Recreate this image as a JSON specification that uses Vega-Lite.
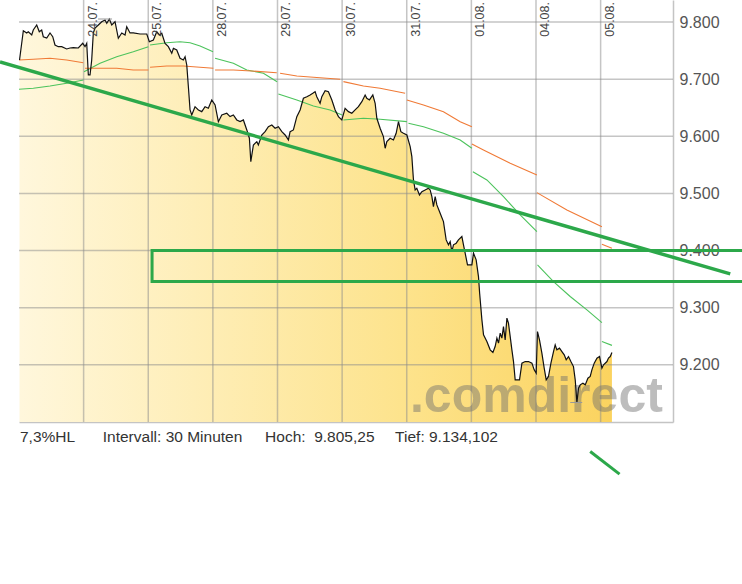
{
  "$schema": "https://vega.github.io/schema/vega-lite/v6.json",
  "autosize": "none",
  "width": 654,
  "height": 422,
  "padding": {"left": 19, "top": 0, "right": 69, "bottom": 162},
  "background": "white",
  "config": {"view": {"stroke": null}},
  "datasets": {
    "kurs": [
      {"t":0.008,"kurs":9733.5},{"t":0.067,"kurs":9784.8},{"t":0.119,"kurs":9780.8},{"t":0.144,"kurs":9783.0},{"t":0.197,"kurs":9777.3},{"t":0.221,"kurs":9786.0},{"t":0.274,"kurs":9794.8},{"t":0.314,"kurs":9783.0},{"t":0.351,"kurs":9786.0},{"t":0.376,"kurs":9774.3},{"t":0.429,"kurs":9772.0},{"t":0.480,"kurs":9780.8},{"t":0.522,"kurs":9774.3},{"t":0.557,"kurs":9759.8},{"t":0.608,"kurs":9756.8},{"t":0.661,"kurs":9756.8},{"t":0.738,"kurs":9752.8},{"t":0.789,"kurs":9754.5},{"t":0.841,"kurs":9755.1},{"t":0.918,"kurs":9754.5},{"t":0.986,"kurs":9762.7},{"t":1.022,"kurs":9756.8},{"t":1.048,"kurs":9762.7},{"t":1.073,"kurs":9707.3},{"t":1.099,"kurs":9707.3},{"t":1.125,"kurs":9733.5},{"t":1.150,"kurs":9780.8},{"t":1.176,"kurs":9789.5},{"t":1.228,"kurs":9794.8},{"t":1.280,"kurs":9800.5},{"t":1.331,"kurs":9803.5},{"t":1.358,"kurs":9797.7},{"t":1.398,"kurs":9805.25},{"t":1.435,"kurs":9794.8},{"t":1.486,"kurs":9800.5},{"t":1.537,"kurs":9771.5},{"t":1.590,"kurs":9780.8},{"t":1.641,"kurs":9777.3},{"t":1.667,"kurs":9791.8},{"t":1.718,"kurs":9780.8},{"t":1.769,"kurs":9780.8},{"t":1.873,"kurs":9779.0},{"t":1.977,"kurs":9779.0},{"t":2.017,"kurs":9765.5},{"t":2.079,"kurs":9768.5},{"t":2.132,"kurs":9783.0},{"t":2.172,"kurs":9777.3},{"t":2.209,"kurs":9780.2},{"t":2.260,"kurs":9762.7},{"t":2.311,"kurs":9756.8},{"t":2.364,"kurs":9745.2},{"t":2.389,"kurs":9754.0},{"t":2.441,"kurs":9751.0},{"t":2.492,"kurs":9736.5},{"t":2.543,"kurs":9733.5},{"t":2.570,"kurs":9739.3},{"t":2.596,"kurs":9724.8},{"t":2.621,"kurs":9686.8},{"t":2.647,"kurs":9646.1},{"t":2.673,"kurs":9637.3},{"t":2.724,"kurs":9651.8},{"t":2.776,"kurs":9646.1},{"t":2.828,"kurs":9643.1},{"t":2.879,"kurs":9651.8},{"t":2.930,"kurs":9649.0},{"t":2.983,"kurs":9663.6},{"t":3.034,"kurs":9654.8},{"t":3.085,"kurs":9625.6},{"t":3.138,"kurs":9637.3},{"t":3.215,"kurs":9640.3},{"t":3.266,"kurs":9634.4},{"t":3.317,"kurs":9637.3},{"t":3.370,"kurs":9628.6},{"t":3.421,"kurs":9625.6},{"t":3.472,"kurs":9628.6},{"t":3.525,"kurs":9611.1},{"t":3.565,"kurs":9596.6},{"t":3.587,"kurs":9555.6},{"t":3.627,"kurs":9584.8},{"t":3.680,"kurs":9590.6},{"t":3.704,"kurs":9584.8},{"t":3.757,"kurs":9602.3},{"t":3.808,"kurs":9608.1},{"t":3.859,"kurs":9616.8},{"t":3.912,"kurs":9619.8},{"t":3.963,"kurs":9614.0},{"t":4.014,"kurs":9616.8},{"t":4.067,"kurs":9608.1},{"t":4.118,"kurs":9602.3},{"t":4.169,"kurs":9593.6},{"t":4.195,"kurs":9608.1},{"t":4.246,"kurs":9611.1},{"t":4.299,"kurs":9634.4},{"t":4.350,"kurs":9646.1},{"t":4.401,"kurs":9666.5},{"t":4.454,"kurs":9669.3},{"t":4.505,"kurs":9672.3},{"t":4.546,"kurs":9675.3},{"t":4.582,"kurs":9678.1},{"t":4.608,"kurs":9669.3},{"t":4.633,"kurs":9663.6},{"t":4.659,"kurs":9657.8},{"t":4.686,"kurs":9669.3},{"t":4.737,"kurs":9679.8},{"t":4.788,"kurs":9678.1},{"t":4.841,"kurs":9663.6},{"t":4.892,"kurs":9646.1},{"t":4.943,"kurs":9634.4},{"t":4.995,"kurs":9628.6},{"t":5.046,"kurs":9649.0},{"t":5.098,"kurs":9643.1},{"t":5.150,"kurs":9640.3},{"t":5.201,"kurs":9646.1},{"t":5.252,"kurs":9651.8},{"t":5.305,"kurs":9660.6},{"t":5.356,"kurs":9672.3},{"t":5.382,"kurs":9666.5},{"t":5.423,"kurs":9663.6},{"t":5.475,"kurs":9672.3},{"t":5.511,"kurs":9657.8},{"t":5.537,"kurs":9631.5},{"t":5.588,"kurs":9614.0},{"t":5.639,"kurs":9599.4},{"t":5.666,"kurs":9579.1},{"t":5.692,"kurs":9590.6},{"t":5.743,"kurs":9596.6},{"t":5.794,"kurs":9593.6},{"t":5.836,"kurs":9605.3},{"t":5.872,"kurs":9625.6},{"t":5.909,"kurs":9608.1},{"t":5.949,"kurs":9605.3},{"t":6.002,"kurs":9602.3},{"t":6.053,"kurs":9581.9},{"t":6.079,"kurs":9564.4},{"t":6.104,"kurs":9523.6},{"t":6.130,"kurs":9506.1},{"t":6.156,"kurs":9509.1},{"t":6.197,"kurs":9497.4},{"t":6.234,"kurs":9503.2},{"t":6.285,"kurs":9506.1},{"t":6.336,"kurs":9509.1},{"t":6.362,"kurs":9506.1},{"t":6.389,"kurs":9494.4},{"t":6.413,"kurs":9476.9},{"t":6.440,"kurs":9494.4},{"t":6.466,"kurs":9479.9},{"t":6.517,"kurs":9465.4},{"t":6.568,"kurs":9450.7},{"t":6.610,"kurs":9418.7},{"t":6.646,"kurs":9410.0},{"t":6.672,"kurs":9415.7},{"t":6.698,"kurs":9398.2},{"t":6.723,"kurs":9410.0},{"t":6.765,"kurs":9412.9},{"t":6.800,"kurs":9418.7},{"t":6.853,"kurs":9424.5},{"t":6.878,"kurs":9410.0},{"t":6.904,"kurs":9395.4},{"t":6.940,"kurs":9375.0},{"t":7.008,"kurs":9375.0},{"t":7.033,"kurs":9395.4},{"t":7.074,"kurs":9383.7},{"t":7.110,"kurs":9354.5},{"t":7.128,"kurs":9325.4},{"t":7.163,"kurs":9278.7},{"t":7.188,"kurs":9252.5},{"t":7.240,"kurs":9240.8},{"t":7.291,"kurs":9226.3},{"t":7.333,"kurs":9221.6},{"t":7.368,"kurs":9232.1},{"t":7.395,"kurs":9246.7},{"t":7.420,"kurs":9238.0},{"t":7.446,"kurs":9255.5},{"t":7.472,"kurs":9246.7},{"t":7.497,"kurs":9267.0},{"t":7.523,"kurs":9243.7},{"t":7.550,"kurs":9281.7},{"t":7.574,"kurs":9273.0},{"t":7.601,"kurs":9249.5},{"t":7.627,"kurs":9226.3},{"t":7.652,"kurs":9205.8},{"t":7.678,"kurs":9173.8},{"t":7.745,"kurs":9173.8},{"t":7.782,"kurs":9203.0},{"t":7.833,"kurs":9205.8},{"t":7.884,"kurs":9205.8},{"t":7.937,"kurs":9203.0},{"t":7.972,"kurs":9191.3},{"t":8.003,"kurs":9185.5},{"t":8.023,"kurs":9258.3},{"t":8.054,"kurs":9243.7},{"t":8.091,"kurs":9220.5},{"t":8.127,"kurs":9194.2},{"t":8.158,"kurs":9173.8},{"t":8.193,"kurs":9179.6},{"t":8.231,"kurs":9203.0},{"t":8.271,"kurs":9223.3},{"t":8.297,"kurs":9235.0},{"t":8.323,"kurs":9226.3},{"t":8.364,"kurs":9229.2},{"t":8.401,"kurs":9223.3},{"t":8.437,"kurs":9217.5},{"t":8.467,"kurs":9208.8},{"t":8.503,"kurs":9214.5},{"t":8.540,"kurs":9205.8},{"t":8.580,"kurs":9197.0},{"t":8.607,"kurs":9173.8},{"t":8.633,"kurs":9134.1},{"t":8.658,"kurs":9159.3},{"t":8.684,"kurs":9165.0},{"t":8.726,"kurs":9168.0},{"t":8.762,"kurs":9165.0},{"t":8.803,"kurs":9176.7},{"t":8.839,"kurs":9179.6},{"t":8.865,"kurs":9191.3},{"t":8.901,"kurs":9203.0},{"t":8.943,"kurs":9211.8},{"t":8.983,"kurs":9214.5},{"t":9.020,"kurs":9194.2},{"t":9.045,"kurs":9200.0},{"t":9.098,"kurs":9205.8},{"t":9.122,"kurs":9211.8},{"t":9.149,"kurs":9214.5},{"t":9.175,"kurs":9221.5}
    ],
    "gd": [
      {"linie":"GD kurz","tag":0,"t":0.0,"kurs":9682.3},{"linie":"GD kurz","tag":0,"t":0.221,"kurs":9684.0},{"linie":"GD kurz","tag":0,"t":0.480,"kurs":9688.0},{"linie":"GD kurz","tag":0,"t":0.738,"kurs":9692.8},{"linie":"GD kurz","tag":0,"t":0.998,"kurs":9698.5},
      {"linie":"GD kurz","tag":1,"t":1.006,"kurs":9713.1},{"linie":"GD kurz","tag":1,"t":1.254,"kurs":9727.8},{"linie":"GD kurz","tag":1,"t":1.512,"kurs":9739.3},{"linie":"GD kurz","tag":1,"t":1.769,"kurs":9748.1},{"linie":"GD kurz","tag":1,"t":2.002,"kurs":9756.8},
      {"linie":"GD kurz","tag":2,"t":2.028,"kurs":9759.8},{"linie":"GD kurz","tag":2,"t":2.286,"kurs":9763.8},{"linie":"GD kurz","tag":2,"t":2.492,"kurs":9765.5},{"linie":"GD kurz","tag":2,"t":2.647,"kurs":9763.8},{"linie":"GD kurz","tag":2,"t":2.802,"kurs":9758.0},{"linie":"GD kurz","tag":2,"t":3.003,"kurs":9748.1},
      {"linie":"GD kurz","tag":3,"t":3.034,"kurs":9736.5},{"linie":"GD kurz","tag":3,"t":3.317,"kurs":9727.8},{"linie":"GD kurz","tag":3,"t":3.525,"kurs":9716.0},{"linie":"GD kurz","tag":3,"t":3.782,"kurs":9710.3},{"linie":"GD kurz","tag":3,"t":3.994,"kurs":9695.6},
      {"linie":"GD kurz","tag":4,"t":4.014,"kurs":9674.0},{"linie":"GD kurz","tag":4,"t":4.299,"kurs":9663.6},{"linie":"GD kurz","tag":4,"t":4.556,"kurs":9653.0},{"linie":"GD kurz","tag":4,"t":4.814,"kurs":9646.1},{"linie":"GD kurz","tag":4,"t":5.0,"kurs":9637.3},
      {"linie":"GD kurz","tag":5,"t":5.020,"kurs":9628.6},{"linie":"GD kurz","tag":5,"t":5.330,"kurs":9631.5},{"linie":"GD kurz","tag":5,"t":5.588,"kurs":9629.8},{"linie":"GD kurz","tag":5,"t":6.002,"kurs":9625.6},
      {"linie":"GD kurz","tag":6,"t":6.026,"kurs":9622.8},{"linie":"GD kurz","tag":6,"t":6.259,"kurs":9616.8},{"linie":"GD kurz","tag":6,"t":6.568,"kurs":9605.3},{"linie":"GD kurz","tag":6,"t":6.827,"kurs":9593.6},{"linie":"GD kurz","tag":6,"t":7.008,"kurs":9579.1},
      {"linie":"GD kurz","tag":7,"t":7.023,"kurs":9538.1},{"linie":"GD kurz","tag":7,"t":7.240,"kurs":9523.6},{"linie":"GD kurz","tag":7,"t":7.497,"kurs":9494.4},{"linie":"GD kurz","tag":7,"t":7.755,"kurs":9462.4},{"linie":"GD kurz","tag":7,"t":8.014,"kurs":9433.3},
      {"linie":"GD kurz","tag":8,"t":8.023,"kurs":9374.9},{"linie":"GD kurz","tag":8,"t":8.271,"kurs":9345.8},{"linie":"GD kurz","tag":8,"t":8.529,"kurs":9319.6},{"linie":"GD kurz","tag":8,"t":8.788,"kurs":9296.3},{"linie":"GD kurz","tag":8,"t":9.020,"kurs":9274.0},
      {"linie":"GD kurz","tag":9,"t":9.020,"kurs":9240.8},{"linie":"GD kurz","tag":9,"t":9.175,"kurs":9234.1},
      {"linie":"GD lang","tag":0,"t":0.0,"kurs":9733.5},{"linie":"GD lang","tag":0,"t":0.221,"kurs":9734.7},{"linie":"GD lang","tag":0,"t":0.480,"kurs":9736.5},{"linie":"GD lang","tag":0,"t":0.738,"kurs":9733.5},{"linie":"GD lang","tag":0,"t":0.995,"kurs":9728.8},
      {"linie":"GD lang","tag":1,"t":1.022,"kurs":9719.0},{"linie":"GD lang","tag":1,"t":1.254,"kurs":9719.0},{"linie":"GD lang","tag":1,"t":1.512,"kurs":9719.0},{"linie":"GD lang","tag":1,"t":1.769,"kurs":9716.0},{"linie":"GD lang","tag":1,"t":2.002,"kurs":9716.0},
      {"linie":"GD lang","tag":2,"t":2.028,"kurs":9720.8},{"linie":"GD lang","tag":2,"t":2.286,"kurs":9723.0},{"linie":"GD lang","tag":2,"t":2.543,"kurs":9723.0},{"linie":"GD lang","tag":2,"t":3.008,"kurs":9719.0},
      {"linie":"GD lang","tag":3,"t":3.034,"kurs":9716.0},{"linie":"GD lang","tag":3,"t":3.317,"kurs":9716.0},{"linie":"GD lang","tag":3,"t":3.525,"kurs":9714.8},{"linie":"GD lang","tag":3,"t":3.989,"kurs":9711.3},
      {"linie":"GD lang","tag":4,"t":4.040,"kurs":9710.3},{"linie":"GD lang","tag":4,"t":4.299,"kurs":9705.5},{"linie":"GD lang","tag":4,"t":4.556,"kurs":9703.3},{"linie":"GD lang","tag":4,"t":4.969,"kurs":9699.8},
      {"linie":"GD lang","tag":5,"t":5.020,"kurs":9695.6},{"linie":"GD lang","tag":5,"t":5.330,"kurs":9688.0},{"linie":"GD lang","tag":5,"t":5.588,"kurs":9684.0},{"linie":"GD lang","tag":5,"t":5.975,"kurs":9675.3},
      {"linie":"GD lang","tag":6,"t":6.002,"kurs":9663.6},{"linie":"GD lang","tag":6,"t":6.259,"kurs":9654.8},{"linie":"GD lang","tag":6,"t":6.568,"kurs":9643.1},{"linie":"GD lang","tag":6,"t":6.827,"kurs":9625.6},{"linie":"GD lang","tag":6,"t":7.008,"kurs":9616.8},
      {"linie":"GD lang","tag":7,"t":7.008,"kurs":9586.6},{"linie":"GD lang","tag":7,"t":7.187,"kurs":9576.1},{"linie":"GD lang","tag":7,"t":7.601,"kurs":9552.8},{"linie":"GD lang","tag":7,"t":8.014,"kurs":9532.4},
      {"linie":"GD lang","tag":8,"t":8.014,"kurs":9501.4},{"linie":"GD lang","tag":8,"t":8.478,"kurs":9471.1},{"linie":"GD lang","tag":8,"t":9.020,"kurs":9441.9},
      {"linie":"GD lang","tag":9,"t":9.020,"kurs":9411.1},{"linie":"GD lang","tag":9,"t":9.175,"kurs":9404.1}
    ],
    "tage": [
      {"t":1,"label":"24.07."},{"t":2,"label":"25.07."},{"t":3,"label":"28.07."},{"t":4,"label":"29.07."},{"t":5,"label":"30.07."},{"t":6,"label":"31.07."},{"t":7,"label":"01.08."},{"t":8,"label":"04.08."},{"t":9,"label":"05.08."}
    ],
    "niveaus": [
      {"kurs":9200},{"kurs":9300},{"kurs":9400},{"kurs":9500},{"kurs":9600},{"kurs":9700},{"kurs":9800}
    ],
    "eins": [{}]
  },
  "layer": [
    {
      "data": {"name": "kurs"},
      "mark": {"type": "area", "fill": {"gradient": "linear", "x1": 0, "y1": 0, "x2": 1, "y2": 0, "stops": [{"offset": 0, "color": "#fff7dc"}, {"offset": 0.65, "color": "#fde38c"}, {"offset": 1, "color": "#fbd35f"}]}},
      "encoding": {
        "x": {"field": "t", "type": "quantitative", "scale": {"domain": [0, 10.12], "nice": false, "zero": false},
              "axis": {"orient": "bottom", "title": null, "labels": false, "ticks": false, "grid": false, "domain": true, "domainColor": "#c4c4c4", "domainWidth": 1.5}},
        "y": {"field": "kurs", "type": "quantitative", "scale": {"domain": [9100, 9838.5], "nice": false, "zero": false},
              "axis": {"orient": "right", "title": null, "values": [9200, 9300, 9400, 9500, 9600, 9700, 9800], "labelExpr": "replace(format(datum.value, ','), ',', '.')", "ticks": false, "grid": false, "domain": true, "domainColor": "#c4c4c4", "domainWidth": 1.5, "labelFont": "Liberation Sans", "labelFontSize": 16, "labelColor": "#555555", "labelPadding": 6}},
        "y2": {"datum": 9100}
      }
    },
    {
      "data": {"name": "tage"},
      "mark": {"type": "rule", "color": "#8c8c8c", "opacity": 0.5, "strokeWidth": 1.5},
      "encoding": {"x": {"field": "t", "type": "quantitative"}}
    },
    {
      "data": {"name": "niveaus"},
      "mark": {"type": "rule", "color": "#8c8c8c", "opacity": 0.5, "strokeWidth": 1.5},
      "encoding": {"y": {"field": "kurs", "type": "quantitative"}}
    },
    {
      "data": {"name": "eins"},
      "mark": {"type": "text", "text": ".comdirect", "align": "left", "baseline": "alphabetic", "font": "Liberation Sans", "fontWeight": "bold", "fontSize": 50, "color": "#6e6e6e", "opacity": 0.45},
      "encoding": {"x": {"datum": 6.05}, "y": {"datum": 9117.8}}
    },
    {
      "data": {"name": "gd"},
      "mark": {"type": "line", "strokeWidth": 1.1},
      "encoding": {
        "x": {"field": "t", "type": "quantitative"},
        "y": {"field": "kurs", "type": "quantitative"},
        "color": {"field": "linie", "type": "nominal", "scale": {"domain": ["GD kurz", "GD lang"], "range": ["#4cc35c", "#f07a36"]}, "legend": null},
        "detail": {"field": "tag"}
      }
    },
    {
      "data": {"name": "kurs"},
      "mark": {"type": "line", "color": "#111111", "strokeWidth": 1.2},
      "encoding": {"x": {"field": "t", "type": "quantitative"}, "y": {"field": "kurs", "type": "quantitative"}}
    },
    {
      "data": {"name": "tage"},
      "mark": {"type": "text", "angle": 270, "align": "right", "baseline": "top", "dx": -2, "dy": 3, "font": "Liberation Sans", "fontSize": 12.5, "color": "#444444"},
      "encoding": {"x": {"field": "t", "type": "quantitative"}, "y": {"datum": 9838.5}, "text": {"field": "label"}}
    },
    {
      "data": {"name": "eins"},
      "mark": {"type": "rule", "color": "#999999", "strokeWidth": 1},
      "encoding": {"x": {"datum": 1.223}, "x2": {"datum": 1.44}, "y": {"datum": 9805.25}}
    },
    {
      "data": {"name": "eins"},
      "mark": {"type": "rule", "color": "#999999", "strokeWidth": 1},
      "encoding": {"x": {"datum": 8.53}, "x2": {"datum": 8.715}, "y": {"datum": 9134.1}}
    },
    {
      "data": {"name": "eins"},
      "mark": {"type": "rule", "color": "#2ca84a", "strokeWidth": 3.5},
      "encoding": {"x": {"datum": -0.294}, "y": {"datum": 9730.0}, "x2": {"datum": 11.006}, "y2": {"datum": 9359.2}}
    },
    {
      "data": {"name": "eins"},
      "mark": {"type": "rect", "fill": null, "fillOpacity": 0, "stroke": "#2ca84a", "strokeWidth": 3},
      "encoding": {"x": {"datum": 2.059}, "x2": {"datum": 11.5}, "y": {"datum": 9400}, "y2": {"datum": 9345.7}}
    },
    {
      "data": {"name": "eins"},
      "mark": {"type": "rule", "color": "#2ca84a", "strokeWidth": 3},
      "encoding": {"x": {"datum": 8.839}, "y": {"datum": 9048.4}, "x2": {"datum": 9.293}, "y2": {"datum": 9008.8}}
    },
    {
      "data": {"name": "eins"},
      "mark": {"type": "text", "text": "7,3%HL", "align": "left", "baseline": "alphabetic", "font": "Liberation Sans", "fontSize": 15.5, "color": "#333333"},
      "encoding": {"x": {"datum": 0.015}, "y": {"datum": 9065.3}}
    },
    {
      "data": {"name": "eins"},
      "mark": {"type": "text", "text": "Intervall: 30 Minuten", "align": "left", "baseline": "alphabetic", "font": "Liberation Sans", "fontSize": 15.5, "color": "#333333"},
      "encoding": {"x": {"datum": 1.296}, "y": {"datum": 9065.3}}
    },
    {
      "data": {"name": "eins"},
      "mark": {"type": "text", "text": "Hoch:\u00a0\u00a09.805,25", "align": "left", "baseline": "alphabetic", "font": "Liberation Sans", "fontSize": 15.5, "color": "#333333"},
      "encoding": {"x": {"datum": 3.808}, "y": {"datum": 9065.3}}
    },
    {
      "data": {"name": "eins"},
      "mark": {"type": "text", "text": "Tief: 9.134,102", "align": "left", "baseline": "alphabetic", "font": "Liberation Sans", "fontSize": 15.5, "color": "#333333"},
      "encoding": {"x": {"datum": 5.82}, "y": {"datum": 9065.3}}
    }
  ]
}
